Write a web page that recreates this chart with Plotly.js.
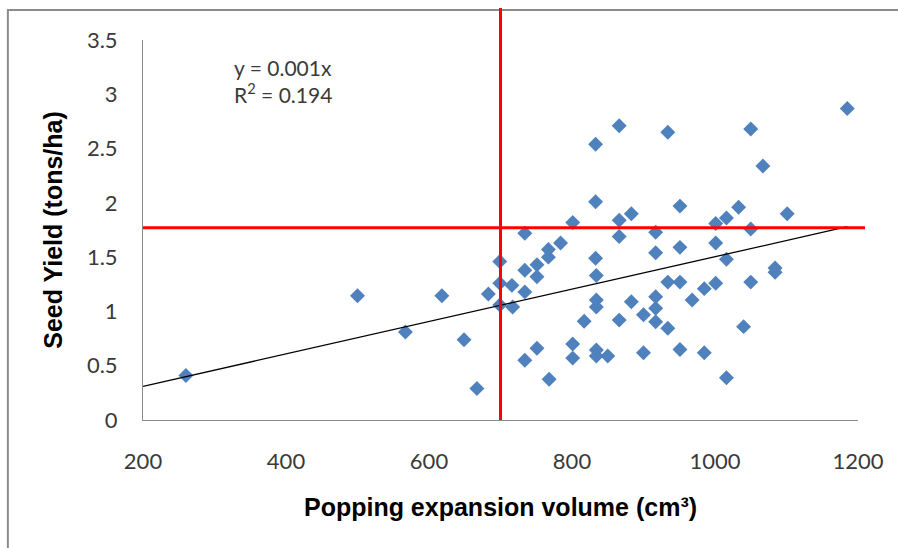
<!DOCTYPE html>
<html>
<head>
<meta charset="utf-8">
<script src="https://cdn.plot.ly/plotly-3.0.1.min.js"></script>
<style>html,body{margin:0;padding:0;background:#fff;}#chart{width:898px;height:548px;}</style>
</head>
<body>
<div id="chart"></div>
<script>
// Popping expansion volume (cm3)
const popVolume = [
  260, 500, 567, 618, 649, 667, 683,
  699, 699, 699, 716, 717, 734, 734, 734, 734, 751, 751, 751, 767, 767, 768, 784, 801, 801, 801, 817,
  833, 833, 833, 834, 834, 834, 834, 834, 850,
  866, 866, 866, 866, 883, 883, 900, 900,
  917, 917, 917, 917, 917, 934, 934, 934, 951, 951, 951, 951, 968, 985, 985,
  1001, 1001, 1001, 1016, 1016, 1016, 1033, 1040, 1050, 1050, 1050, 1067, 1084, 1084, 1101, 1185
];
// Seed yield (tons/ha)
const seedYield = [
  0.41, 1.145, 0.81, 1.145, 0.74, 0.29, 1.16,
  1.46, 1.26, 1.06, 1.24, 1.04, 1.72, 1.38, 1.18, 0.55, 1.43, 1.32, 0.66, 1.57, 1.50, 0.375, 1.63, 1.82, 0.70, 0.57, 0.91,
  2.54, 2.01, 1.49, 1.33, 1.105, 1.04, 0.645, 0.59, 0.59,
  2.71, 1.84, 1.69, 0.92, 1.90, 1.09, 0.97, 0.62,
  1.73, 1.54, 1.135, 1.03, 0.905, 2.65, 1.27, 0.845, 1.97, 1.59, 1.27, 0.65, 1.105, 1.21, 0.62,
  1.81, 1.63, 1.26, 1.86, 1.48, 0.39, 1.96, 0.86, 2.68, 1.76, 1.27, 2.34, 1.40, 1.36, 1.90, 2.87
];
// Linear trend line end points
const trendX = [200, 1185];
const trendY = [0.31, 1.78];
// Red threshold lines
const thresholdX = 700;
const thresholdY = 1.77;
// Axis ticks
const xTicks = [200, 400, 600, 800, 1000, 1200];
const yTicks = [0, 0.5, 1, 1.5, 2, 2.5, 3, 3.5];
const equationLines = ['y = 0.001x', 'R<sup>2</sup> = 0.194'];

const tickFont = {family: 'Lato, "Open Sans", sans-serif', size: 22, color: '#3a3a3a'};
const titleFont = {family: '"Liberation Sans", Arial, sans-serif', size: 25, color: '#000', weight: 'bold'};

const traces = [
  {
    x: popVolume, y: seedYield, type: 'scatter', mode: 'markers',
    marker: {symbol: 'diamond', size: 11.5, color: '#4F81BD', line: {width: 0}},
    hoverinfo: 'x+y', showlegend: false
  },
  {
    x: trendX, y: trendY, type: 'scatter', mode: 'lines',
    line: {color: '#000000', width: 1.3}, hoverinfo: 'skip', showlegend: false
  }
];

const layout = {
  width: 898, height: 548,
  margin: {l: 143, r: 40, t: 40, b: 128},
  paper_bgcolor: '#ffffff', plot_bgcolor: '#ffffff',
  showlegend: false,
  xaxis: {
    range: [200, 1200], tickvals: xTicks, ticktext: xTicks.map(String),
    showgrid: false, zeroline: false, showline: true, linecolor: '#8a8a8a', linewidth: 1,
    ticks: '', tickfont: tickFont, ticklabelstandoff: 22,
    title: {text: '<b>Popping expansion volume (cm³)</b>', font: titleFont, standoff: 25}
  },
  yaxis: {
    range: [0, 3.5], tickvals: yTicks, ticktext: yTicks.map(String),
    showgrid: false, zeroline: false, showline: true, linecolor: '#8a8a8a', linewidth: 1,
    ticks: '', tickfont: tickFont, ticklabelstandoff: 20,
    title: {text: '<b>Seed Yield (tons/ha)</b>', font: titleFont, standoff: 17}
  },
  shapes: [
    {type: 'rect', xref: 'paper', yref: 'paper', x0: -0.189, x1: 1.2, y0: -0.5, y1: 1.079,
     line: {color: '#8c8c8c', width: 2}, fillcolor: 'rgba(0,0,0,0)', layer: 'below'},
    {type: 'line', xref: 'x', yref: 'paper', x0: thresholdX, x1: thresholdX, y0: 0, y1: 1.084,
     line: {color: '#FF0000', width: 3}, layer: 'above'},
    {type: 'line', xref: 'paper', yref: 'y', x0: 0, x1: 1.0098, y0: thresholdY, y1: thresholdY,
     line: {color: '#FF0000', width: 3}, layer: 'above'}
  ],
  annotations: [
    {xref: 'paper', yref: 'paper', x: 0.1245, y: 0.892, xanchor: 'left', yanchor: 'middle',
     align: 'left', showarrow: false, text: equationLines.join('<br>'),
     font: {family: 'Lato, "Open Sans", sans-serif', size: 21, color: '#3a3a3a'}}
  ]
};

Plotly.newPlot('chart', traces, layout, {displayModeBar: false, staticPlot: true});
</script>
</body>
</html>
